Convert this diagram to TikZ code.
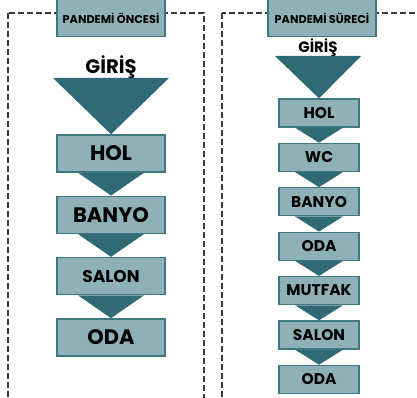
\documentclass[tikz,border=0pt]{standalone}
\usepackage{fontspec}
\setmainfont{Poppins}
\usetikzlibrary{positioning, calc}
\definecolor{kutu}{HTML}{8EB0B7}
\definecolor{kenar}{HTML}{3F7783}
\definecolor{ok}{HTML}{2F6A75}
\definecolor{cizgi}{HTML}{3A3A3A}

\begin{document}
\begin{tikzpicture}[x=1pt, y=-1pt,
    panel/.style={draw=cizgi, line width=1.2pt, dash pattern=on 6pt off 3pt},
    baslik/.style={draw=kenar, line width=1.3pt, fill=kutu, minimum width=108pt,
                   minimum height=37pt, inner sep=0pt,
                   font=\fontsize{11.3}{11.3}\selectfont\bfseries},
    bkutu/.style={draw=kenar, line width=1.5pt, fill=kutu, minimum width=108pt,
                  minimum height=37pt, inner sep=0pt,
                  font=\fontsize{21}{21}\selectfont\bfseries},
    kkutu/.style={draw=kenar, line width=1.3pt, fill=kutu, minimum width=80pt,
                  minimum height=28pt, inner sep=0pt,
                  font=\fontsize{15.5}{15.5}\selectfont\bfseries},
    giris/.style={inner sep=0pt, font=\bfseries},
    node distance=22.8pt
  ]
  \useasboundingbox (0,0) rectangle (417,398);
  \clip (0,0) rectangle (417,398);

  % -- dashed panels --
  \draw[panel] (8,13) rectangle (204,410);
  \draw[panel] (222,13) rectangle (430,410);

  % -- Pandemi oncesi --
  \node[baslik] (lbas) at (111,18) {PANDEMİ ÖNCESİ};
  \node[giris, font=\fontsize{19.5}{19.5}\selectfont\bfseries] (lgiris) at (111,67) {GİRİŞ};
  \coordinate (lgir) at (111,78);

  \node[bkutu] (lhol) at (111,153.5) {HOL};
  \node[bkutu, below=of lhol]   (lbanyo) {BANYO};
  \node[bkutu, below=of lbanyo, font=\fontsize{17}{17}\selectfont\bfseries] (lsalon) {SALON};
  \node[bkutu, below=of lsalon] (loda)   {ODA};

  \fill[ok] ($(lgir)+(-58,0)$) -- ($(lgir)+(58,0)$) -- (lhol.north) -- cycle;
  \foreach \a/\b in {lhol/lbanyo, lbanyo/lsalon, lsalon/loda}
    \fill[ok] ($(\a.south)+(-33,0)$) -- ($(\a.south)+(33,0)$) -- (\b.north) -- cycle;

  % -- Pandemi sureci --
  \node[baslik] (rbas) at (322,18) {PANDEMİ SÜRECİ};
  \node[giris, font=\fontsize{15}{15}\selectfont\bfseries] (rgiris) at (318,48) {GİRİŞ};
  \coordinate (rgir) at (318,56);

  \begin{scope}[node distance=15.1pt]
    \node[kkutu] (rhol) at (319,113) {HOL};
    \node[kkutu, below=of rhol]    (rwc)    {WC};
    \node[kkutu, below=of rwc]     (rbanyo) {BANYO};
    \node[kkutu, below=of rbanyo]  (roda)   {ODA};
    \node[kkutu, below=of roda]    (rmutfak){MUTFAK};
    \node[kkutu, below=of rmutfak] (rsalon) {SALON};
    \node[kkutu, below=of rsalon]  (roda2)  {ODA};
  \end{scope}

  \fill[ok] ($(rgir)+(-43,0)$) -- ($(rgir)+(43,0)$) -- (rhol.north) -- cycle;
  \foreach \a/\b in {rhol/rwc, rwc/rbanyo, rbanyo/roda, roda/rmutfak,
                     rmutfak/rsalon, rsalon/roda2}
    \fill[ok] ($(\a.south)+(-24,0)$) -- ($(\a.south)+(24,0)$) -- (\b.north) -- cycle;
\end{tikzpicture}
\end{document}
